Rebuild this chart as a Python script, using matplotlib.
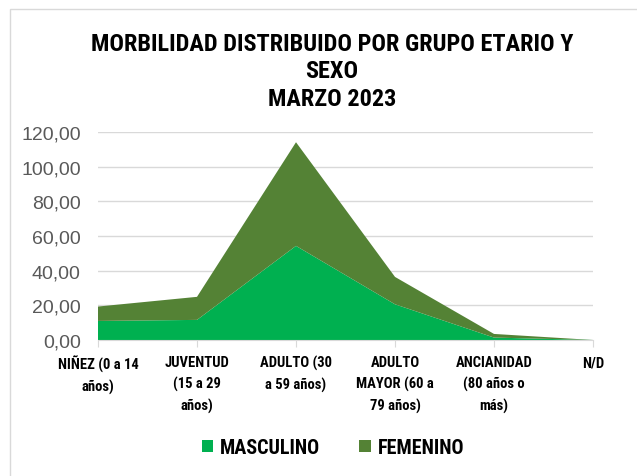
import matplotlib
matplotlib.use("Agg")
import matplotlib.pyplot as plt
from matplotlib.patches import Rectangle

# age groups and percentages
categories = ["NIÑEZ (0 a 14\naños)", "JUVENTUD\n(15 a 29\naños)", "ADULTO (30\na 59 años)",
              "ADULTO\nMAYOR (60 a\n79 años)", "ANCIANIDAD\n(80 años o\nmás)", "N/D"]
masculino = [11.0, 11.6, 54.3, 20.6, 1.4, 0.0]
femenino = [8.3, 13.3, 59.8, 15.8, 2.1, 0.0]
yticks = [0, 20, 40, 60, 80, 100, 120]

narrow = ["Roboto Condensed", "PT Sans Narrow", "Liberation Sans"]

fig = plt.figure(figsize=(6.37, 4.77), dpi=100)
fig.patches.append(Rectangle((10/637, -0.1), 1.2, 1 - 10/477 + 0.1, transform=fig.transFigure,
                             fill=False, edgecolor="#d9d9d9", lw=1))
ax = fig.add_axes([98/637, 1 - 341/477, 495/637, 208/477])

x = range(len(categories))
ax.stackplot(x, masculino, femenino, colors=["#00b050", "#548235"],
             labels=["MASCULINO", "FEMENINO"], edgecolor="none")
ax.set_xlim(0, len(categories) - 1)
ax.set_ylim(0, 120)
ax.set_yticks(yticks)
ax.set_yticklabels([f"{v:.2f}".replace(".", ",") for v in yticks],
                   fontsize=14, color="#595959", family="Liberation Sans")
ax.set_xticks(list(x))
ax.set_xticklabels(categories, fontsize=10.5, fontweight="bold", family=narrow,
                   va="top", linespacing=1.6)
ax.grid(axis="y", color="#d9d9d9", lw=1)
ax.set_axisbelow(True)
for s in ["top", "right", "left"]:
    ax.spines[s].set_visible(False)
ax.spines["bottom"].set_color("#d9d9d9")
ax.tick_params(axis="y", length=0, pad=12.5)
ax.tick_params(axis="x", length=5, color="#d9d9d9", pad=6)

fig.text(332/637, 1 - 33/477, "MORBILIDAD DISTRIBUIDO POR GRUPO ETARIO Y\nSEXO\nMARZO 2023",
         ha="center", va="top", fontsize=17.5, fontweight="bold", family=narrow, linespacing=1.25)

ax.legend(loc="center", bbox_to_anchor=(333/637, 1 - 449/477), bbox_transform=fig.transFigure,
          ncol=2, frameon=False, prop={"family": narrow, "weight": "bold", "size": 14.5},
          handlelength=0.55, handleheight=0.55, columnspacing=1.95, handletextpad=0.35)

fig.savefig("out.png", dpi=100)
